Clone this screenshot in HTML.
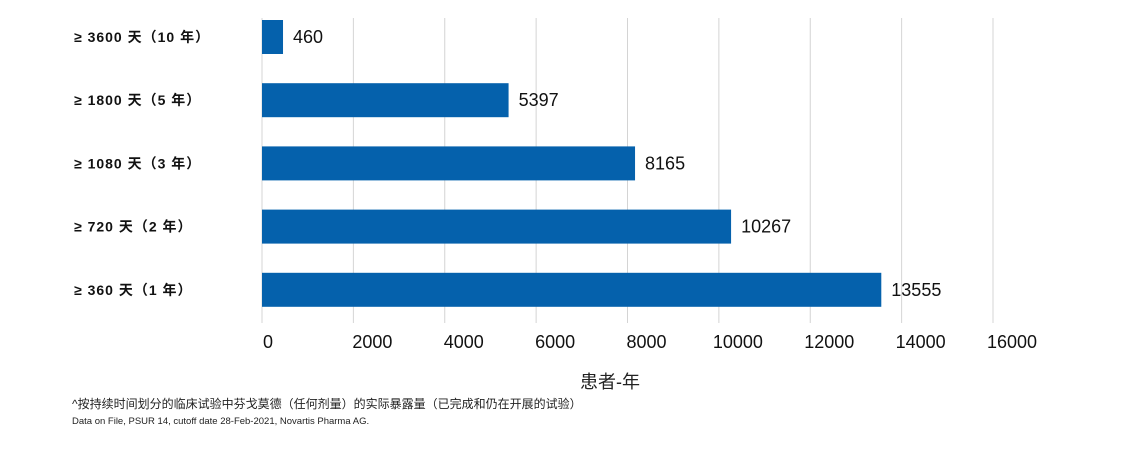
<!DOCTYPE html>
<html><head><meta charset="utf-8"><style>
body{margin:0;background:#fff;}
svg{display:block;font-family:"Liberation Sans","Noto Sans CJK SC",sans-serif;}
</style></head><body>
<svg id="chart" width="1143" height="467">
<g id="grid"></g>
<g id="bars"></g>
<g id="cats"></g>
<g id="ticks"></g>
<text x="610" y="388" text-anchor="middle" font-size="18" fill="#222">患者-年</text>
<text x="72" y="408" font-size="12" fill="#222">^按持续时间划分的临床试验中芬戈莫德（任何剂量）的实际暴露量（已完成和仍在开展的试验）</text>
<text x="72" y="424" font-size="9.5" fill="#222">Data on File, PSUR 14, cutoff date 28-Feb-2021, Novartis Pharma AG.</text>
</svg>
<script>
const categories = ["≥ 3600 天（10 年）","≥ 1800 天（5 年）","≥ 1080 天（3 年）","≥ 720 天（2 年）","≥ 360 天（1 年）"];
const values = [460, 5397, 8165, 10267, 13555];
const tickValues = [0,2000,4000,6000,8000,10000,12000,14000,16000];
const NS="http://www.w3.org/2000/svg";
const x0=262, x1=993, maxV=16000;
const xs=v=>x0+(v/maxV)*(x1-x0);
const rowY=i=>37+i*63.2;
function mk(tag,attrs,parent){const e=document.createElementNS(NS,tag);for(const k in attrs)e.setAttribute(k,attrs[k]);document.getElementById(parent).appendChild(e);return e;}
tickValues.forEach((t,i)=>{
  const l=mk('line',{x1:xs(t),x2:xs(t),y1:18,y2:323,stroke:'#d4d4d4','stroke-width':1},'grid');
  
  
  const tx=mk('text',{x:xs(t)+(i===0?6:19),y:348,'text-anchor':'middle','font-size':18,fill:'#111'},'ticks');
  tx.textContent=t;
  
  
});
categories.forEach((c,i)=>{
  const y=rowY(i);
  const r=mk('rect',{x:x0,y:y-17,width:xs(values[i])-x0,height:34,fill:'#0561ac'},'bars');
  
  
  const v=mk('text',{x:xs(values[i])+10,y:y+6,'font-size':18,fill:'#111'},'bars');
  v.textContent=values[i];
  
  
  const t=mk('text',{x:74,y:y+5,'font-size':14,'font-weight':'bold','letter-spacing':'1',fill:'#111'},'cats');
  t.textContent=c;
  
  
});
</script>
</body></html>
